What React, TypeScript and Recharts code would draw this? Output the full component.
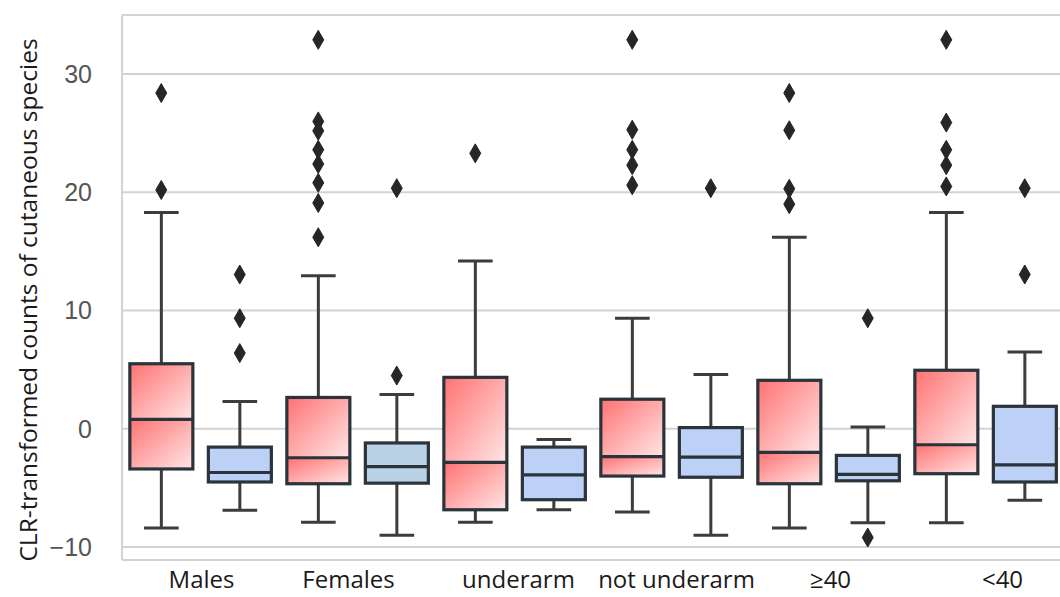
import React from 'react';
import { ComposedChart, Bar, Scatter, XAxis, YAxis, CartesianGrid, ReferenceLine } from 'recharts';

// ---- data ----
const GROUPS = ['Males', 'Females', 'underarm', 'not underarm', '≥40', '<40'];

const RED_WHISKER_HIGH = [18.3, 12.95, 14.2, 9.35, 16.2, 18.3];
const RED_Q3 = [5.5, 2.65, 4.35, 2.5, 4.1, 4.95];
const RED_MEDIAN = [0.8, -2.45, -2.85, -2.35, -2.0, -1.35];
const RED_Q1 = [-3.4, -4.65, -6.85, -4.0, -4.65, -3.8];
const RED_WHISKER_LOW = [-8.4, -7.9, -7.9, -7.05, -8.4, -7.95];
const RED_OUTLIERS = [
  [28.4, 20.2],
  [32.9, 26.0, 25.2, 23.6, 22.4, 20.8, 19.1, 16.2],
  [23.3],
  [32.9, 25.3, 23.6, 22.3, 20.6],
  [28.4, 25.25, 20.3, 19.0],
  [32.9, 25.9, 23.6, 22.3, 20.5],
];

const BLUE_WHISKER_HIGH = [2.3, 2.9, -0.9, 4.6, 0.15, 6.5];
const BLUE_Q3 = [-1.55, -1.2, -1.55, 0.1, -2.25, 1.9];
const BLUE_MEDIAN = [-3.7, -3.2, -3.9, -2.4, -3.85, -3.05];
const BLUE_Q1 = [-4.5, -4.6, -6.0, -4.1, -4.4, -4.5];
const BLUE_WHISKER_LOW = [-6.9, -9.0, -6.85, -9.0, -7.95, -6.05];
const BLUE_OUTLIERS = [
  [13.05, 9.35, 6.4],
  [20.35, 4.5],
  [],
  [20.35],
  [9.35, -9.2],
  [20.35, 13.05],
];

const Y_TICKS = [-10, 0, 10, 20, 30];
const Y_DOMAIN = [-11.1, 35];
const Y_TITLE = 'CLR-transformed counts of cutaneous species';

// ---- styles ----
const BLUE_FILLS = ['#bdd1f7', '#b9d2e6', '#bdd1f7', '#bdd1f7', '#bdd1f7', '#bdd1f7'];
const LABEL_DX = [1, -9, 4, 5, 2, 17];
const GRID = '#d3d3d3';
const BOX_STROKE = '#2b333b';
const WHISKER = '#3c3c3c';

type Row = {
  box: string;
  group: string;
  hue: 'red' | 'blue';
  gi: number;
  lo: number;
  q1: number;
  med: number;
  q3: number;
  hi: number;
  outliers: number[];
};

const rows: Row[] = GROUPS.flatMap((g, i) => [
  {
    box: g + ' · red', group: g, hue: 'red' as const, gi: i,
    lo: RED_WHISKER_LOW[i], q1: RED_Q1[i], med: RED_MEDIAN[i], q3: RED_Q3[i], hi: RED_WHISKER_HIGH[i],
    outliers: RED_OUTLIERS[i],
  },
  {
    box: g + ' · blue', group: g, hue: 'blue' as const, gi: i,
    lo: BLUE_WHISKER_LOW[i], q1: BLUE_Q1[i], med: BLUE_MEDIAN[i], q3: BLUE_Q3[i], hi: BLUE_WHISKER_HIGH[i],
    outliers: BLUE_OUTLIERS[i],
  },
]);

const MAX_OUT = Math.max(...rows.map((r) => r.outliers.length));

const BoxShape = (props: any) => {
  const { x, y, width, height, payload } = props;
  const r: Row = payload;
  if (!isFinite(x) || !isFinite(y)) return null;
  const span = r.hi - r.lo;
  const pix = (v: number) => y + ((r.hi - v) / span) * height;
  const cx = x + width / 2;
  const capW = width * 0.55;
  const yHi = pix(r.hi);
  const yLo = pix(r.lo);
  const yQ3 = pix(r.q3);
  const yQ1 = pix(r.q1);
  const yMed = pix(r.med);
  const fill = r.hue === 'red' ? 'url(#redGrad)' : BLUE_FILLS[r.gi];
  return (
    <g>
      <line x1={cx} x2={cx} y1={yHi} y2={yQ3} stroke={WHISKER} strokeWidth={3} />
      <line x1={cx} x2={cx} y1={yQ1} y2={yLo} stroke={WHISKER} strokeWidth={3} />
      <line x1={cx - capW / 2} x2={cx + capW / 2} y1={yHi} y2={yHi} stroke={WHISKER} strokeWidth={3} />
      <line x1={cx - capW / 2} x2={cx + capW / 2} y1={yLo} y2={yLo} stroke={WHISKER} strokeWidth={3} />
      <rect x={x} y={yQ3} width={width} height={Math.max(0, yMed - yQ3)} fill={fill} />
      <rect x={x} y={yMed} width={width} height={Math.max(0, yQ1 - yMed)} fill={fill} />
      <rect x={x} y={yQ3} width={width} height={Math.max(0, yQ1 - yQ3)} fill="none" stroke={BOX_STROKE} strokeWidth={3.2} />
      <line x1={x} x2={x + width} y1={yMed} y2={yMed} stroke={BOX_STROKE} strokeWidth={3.2} />
    </g>
  );
};

const makeDiamond = (k: number) => (props: any) => {
  const { cx, cy, payload } = props;
  if (!payload || payload.outliers.length <= k || !isFinite(cx) || !isFinite(cy)) return <g />;
  const w = 5.5;
  const h = 9.5;
  return (
    <path
      d={`M${cx},${cy - h} L${cx + w},${cy} L${cx},${cy + h} L${cx - w},${cy} Z`}
      fill="#262626"
      stroke="#262626"
      strokeWidth={1}
    />
  );
};

const fmtY = (v: number) => (v < 0 ? '\u2212' + Math.abs(v) : String(v));

const XTick = (props: any) => {
  const { x, y, payload, index } = props;
  return (
    <text
      x={x + (LABEL_DX[index] ?? 0)}
      y={y}
      dy="0.71em"
      textAnchor="middle"
      fontFamily="'Open Sans', sans-serif"
      fontSize={24}
      fill="#1a1a1a"
    >
      {payload.value}
    </text>
  );
};

const YTitle = (props: any) => {
  const vb = props.viewBox || { x: 0, y: 15, width: 122, height: 545 };
  const cx = vb.x + 27;
  const cy = vb.y + vb.height / 2 + 12.5;
  return (
    <text
      transform={`translate(${cx},${cy}) rotate(-90)`}
      textAnchor="middle"
      dominantBaseline="central"
      fontFamily="'Open Sans', sans-serif"
      fontSize={24.5}
      fill="#1a1a1a"
    >
      {Y_TITLE}
    </text>
  );
};

export default function App() {
  return (
    <div
      style={{
        position: 'absolute',
        left: 0,
        top: 0,
        width: 1060,
        height: 597,
        overflow: 'hidden',
        background: '#ffffff',
      }}
    >
      <ComposedChart
        width={1070}
        height={597}
        data={rows}
        margin={{ top: 15, right: 6, bottom: 0, left: 0 }}
        barCategoryGap="10%"
      >
        <defs>
          <linearGradient id="redGrad" x1="0" y1="0" x2="1" y2="1">
            <stop offset="0%" stopColor="#ff7272" />
            <stop offset="100%" stopColor="#ffe6e6" />
          </linearGradient>
        </defs>
        <CartesianGrid vertical={false} stroke={GRID} strokeWidth={2} />
        <XAxis xAxisId="box" dataKey="box" type="category" hide allowDuplicatedCategory={false} />
        <XAxis
          dataKey="group"
          type="category"
          allowDuplicatedCategory={false}
          interval={0}
          height={37}
          tickLine={false}
          tickSize={0}
          tickMargin={11}
          axisLine={{ stroke: GRID, strokeWidth: 2 }}
          tick={<XTick />}
        />
        <YAxis
          type="number"
          domain={Y_DOMAIN}
          ticks={Y_TICKS}
          allowDataOverflow
          width={122}
          tickLine={false}
          tickSize={0}
          tickMargin={30}
          tickFormatter={fmtY}
          axisLine={{ stroke: GRID, strokeWidth: 2 }}
          tick={{ fontFamily: "'Liberation Sans', Arial, sans-serif", fontSize: 25, fill: '#555555' }}
          label={{ content: <YTitle /> }}
        />
        <ReferenceLine y={Y_DOMAIN[1]} stroke={GRID} strokeWidth={2} />
        <Bar
          xAxisId="box"
          dataKey={(r: Row) => [r.lo, r.hi]}
          shape={BoxShape}
          isAnimationActive={false}
        />
        {Array.from({ length: MAX_OUT }).map((_, k) => (
          <Scatter
            key={k}
            xAxisId="box"
            dataKey={(r: Row) => (r.outliers.length > k ? r.outliers[k] : null)}
            shape={makeDiamond(k)}
            isAnimationActive={false}
          />
        ))}
      </ComposedChart>
    </div>
  );
}
